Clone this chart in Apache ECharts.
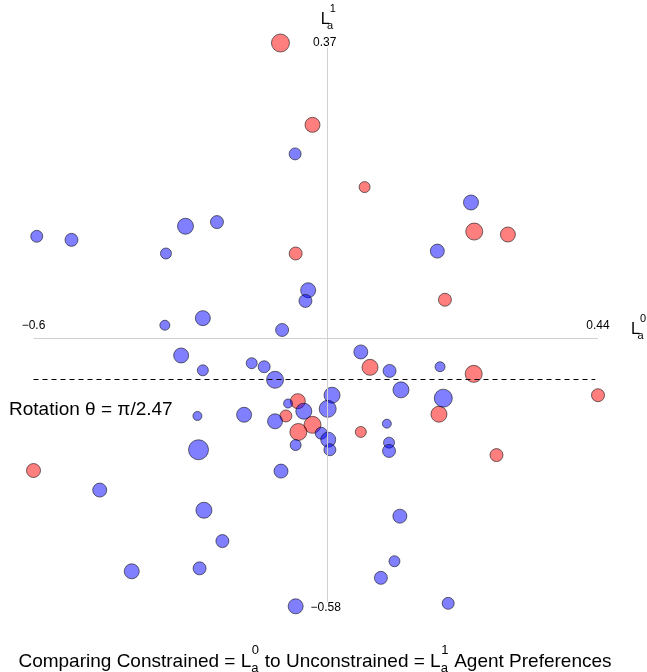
<!DOCTYPE html>
<html>
<head>
<meta charset="utf-8">
<script src="https://cdn.jsdelivr.net/npm/echarts@6/dist/echarts.min.js"></script>
<style>
  html, body { margin: 0; padding: 0; background: #fff; }
  #chart { width: 647px; height: 672px; }
</style>
</head>
<body>
<div id="chart"></div>
<script>
// axis extents and where the two axes cross
var xRange = [-0.6, 0.44];
var yRange = [-0.58, 0.37];
var axisCross = [-0.058, -0.128];
var rotationY = -0.197;
var tickLabels = ['\u22120.6', '0.44', '0.37', '\u22120.58'];
var rotationText = 'Rotation \u03b8 = \u03c0/2.47';

// [x, y, weight]
var redPts = [
    [-0.145, 0.370, 1.8], [-0.086, 0.232, 1.5], [0.010, 0.127, 1.1], [-0.117, 0.015, 1.3],
    [0.212, 0.052, 1.7], [0.274, 0.047, 1.5], [0.158, -0.063, 1.3], [0.020, -0.177, 1.6],
    [0.211, -0.188, 1.7], [0.440, -0.224, 1.3], [-0.113, -0.234, 1.5], [-0.135, -0.259, 1.2],
    [0.147, -0.256, 1.6], [-0.086, -0.274, 1.7], [-0.112, -0.286, 1.7], [0.003, -0.286, 1.1],
    [0.253, -0.325, 1.3], [-0.600, -0.351, 1.4]
];
var bluePts = [
    [-0.594, 0.044, 1.2], [-0.530, 0.038, 1.3], [-0.320, 0.061, 1.6], [-0.262, 0.068, 1.3],
    [-0.356, 0.015, 1.1], [-0.288, -0.094, 1.5], [-0.358, -0.106, 1.0], [-0.118, 0.183, 1.2],
    [-0.094, -0.047, 1.5], [-0.099, -0.065, 1.3], [-0.142, -0.114, 1.3], [0.206, 0.101, 1.5],
    [0.144, 0.019, 1.4], [-0.328, -0.157, 1.5], [-0.288, -0.182, 1.1], [-0.198, -0.170, 1.1],
    [-0.175, -0.176, 1.2], [-0.155, -0.198, 1.7], [0.003, -0.151, 1.4], [0.056, -0.183, 1.3],
    [0.149, -0.176, 1.0], [0.077, -0.215, 1.6], [-0.050, -0.224, 1.6], [0.155, -0.229, 1.8],
    [-0.131, -0.238, 0.9], [-0.102, -0.251, 1.6], [-0.058, -0.247, 1.7], [-0.212, -0.257, 1.5],
    [-0.298, -0.259, 0.9], [-0.155, -0.268, 1.5], [-0.070, -0.288, 1.2], [-0.057, -0.299, 1.5],
    [-0.054, -0.316, 1.2], [0.051, -0.272, 0.9], [0.055, -0.304, 1.1], [0.055, -0.318, 1.3],
    [-0.117, -0.308, 1.1], [-0.296, -0.316, 2.0], [-0.144, -0.352, 1.4], [-0.478, -0.384, 1.4],
    [-0.286, -0.418, 1.6], [0.075, -0.428, 1.4], [-0.252, -0.470, 1.3], [0.065, -0.504, 1.1],
    [-0.419, -0.521, 1.5], [-0.294, -0.516, 1.3], [0.040, -0.532, 1.3], [-0.117, -0.580, 1.5],
    [0.164, -0.575, 1.2]
];

var FONT = 'Liberation Sans, Arial, Helvetica, sans-serif';
var chart = echarts.init(document.getElementById('chart'));

var pointStyle = function (fill) {
    return {
        type: 'scatter',
        symbolSize: function (v) { return v[2] * 10; },
        clip: false,
        z: 3,
        silent: true,
        itemStyle: { color: fill, borderColor: 'rgba(0,0,0,0.55)', borderWidth: 1, opacity: 1 },
        emphasis: { disabled: true }
    };
};

var redSeries = pointStyle('rgba(255,0,0,0.5)');
redSeries.data = redPts;
var blueSeries = pointStyle('rgba(0,0,255,0.5)');
blueSeries.data = bluePts;

var axisLine = { color: '#d0d0d0', width: 1, type: 'solid' };

chart.setOption({
    animation: false,
    grid: { left: 33.5, right: 49, top: 43, bottom: 65.7 },
    xAxis: { type: 'value', min: xRange[0], max: xRange[1], show: false },
    yAxis: { type: 'value', min: yRange[0], max: yRange[1], show: false },
    series: [
        {
            type: 'scatter',
            data: [],
            z: 1,
            markLine: {
                silent: true,
                symbol: 'none',
                label: { show: false },
                animation: false,
                data: [
                    [{ coord: [xRange[0], axisCross[1]], lineStyle: axisLine }, { coord: [xRange[1], axisCross[1]] }],
                    [{ coord: [axisCross[0], 0.362], lineStyle: axisLine }, { coord: [axisCross[0], -0.573] }],
                    [{ coord: [xRange[0], rotationY], lineStyle: { color: '#000', width: 1, type: [5, 4] } },
                     { coord: [0.435, rotationY] }]
                ]
            }
        },
        redSeries,
        blueSeries
    ]
});

// text annotations placed from data coordinates
var px = function (x, y) { return chart.convertToPixel({ gridIndex: 0 }, [x, y]); };
var ctx = document.createElement('canvas').getContext('2d');
var measure = function (t, fs) { ctx.font = fs + 'px ' + FONT; return ctx.measureText(t).width; };

var txt = function (x, y, t, fs, align) {
    return {
        type: 'text', x: x, y: y, silent: true,
        style: { text: t, fontSize: fs, fontFamily: FONT, fill: '#000',
                 textAlign: align || 'left', textVerticalAlign: 'middle' }
    };
};

// L with subscript a and superscript digit; x = left, b = baseline
var lSym = function (x, b, fs, digit) {
    var s = Math.round(fs * 0.7);
    var lw = measure('L', fs);
    return [
        txt(x, b - 0.35 * fs, 'L', fs),
        txt(x + lw * 0.72, b + 0.27 * fs - 0.35 * s, 'a', s),
        txt(x + lw * 1.02, b - 0.78 * fs - 0.35 * s, digit, s)
    ];
};

var els = [];
var pl = px(xRange[0], axisCross[1]);
var pr = px(xRange[1], axisCross[1]);
var pt = px(axisCross[0], yRange[1]);
var pb = px(axisCross[0], yRange[0]);
els.push(txt(pl[0], pl[1] - 13, tickLabels[0], 12, 'center'));
els.push(txt(pr[0], pr[1] - 13, tickLabels[1], 12, 'center'));
els.push(txt(pt[0] - 3, pt[1], tickLabels[2], 12, 'center'));
els.push(txt(pb[0] - 2, pb[1] + 1, tickLabels[3], 12, 'center'));
els = els.concat(lSym(pt[0] - 7, pt[1] - 18, 16, '1'));
els = els.concat(lSym(pr[0] + 33, pr[1] - 3, 16, '0'));

var pRot = px(xRange[0], rotationY);
els.push(txt(9, pRot[1] + 37 - 0.35 * 19, rotationText, 19));

// bottom title with stacked scripts
var tfs = 19, sfs = 13, base = 668;
var parts = ['Comparing Constrained = L', '0', ' to Unconstrained = L', '1', ' Agent Preferences'];
var widths = parts.map(function (p, i) { return i % 2 ? measure('a', sfs) + 1 : measure(p, tfs); });
var total = widths.reduce(function (a, b) { return a + b; }, 0);
var cx = 315 - total / 2;
parts.forEach(function (p, i) {
    if (i % 2) {
        els.push(txt(cx, base + 0.27 * tfs - 0.35 * sfs, 'a', sfs));
        els.push(txt(cx + 0.5, base - 0.7 * tfs - 0.35 * sfs, p, sfs));
    } else {
        els.push(txt(cx, base - 0.35 * tfs, p, tfs));
    }
    cx += widths[i];
});

chart.setOption({ graphic: { elements: els } });
</script>
</body>
</html>
